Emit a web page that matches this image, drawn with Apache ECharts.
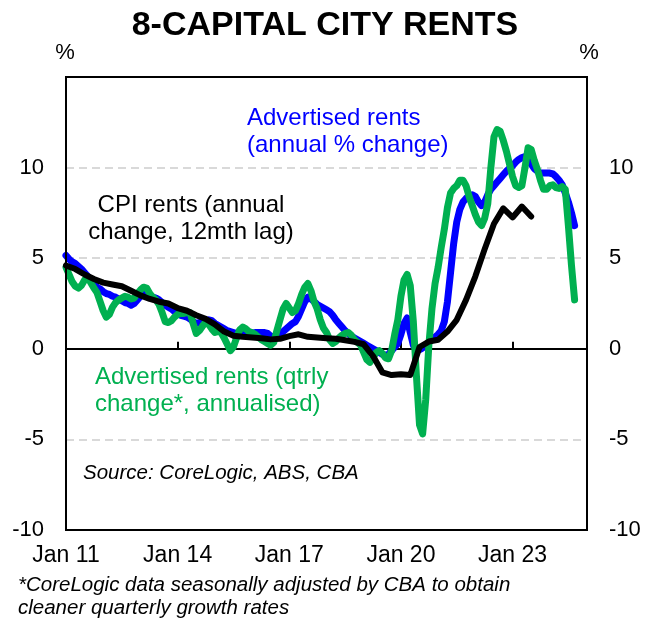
<!DOCTYPE html>
<html><head><meta charset="utf-8">
<script src="https://cdn.jsdelivr.net/npm/echarts@6/dist/echarts.min.js"></script>
<style>html,body{margin:0;padding:0;background:#fff}#c{width:652px;height:624px}</style>
</head><body><div id="c"></div>
<script>
// x axis: months since Jan 2011
const xTickLabels = ['Jan 11', 'Jan 14', 'Jan 17', 'Jan 20', 'Jan 23'];
const xTickStepMonths = 36;
const xMaxMonths = 168;
const yMin = -10, yMax = 15, yStep = 5;

// Advertised rents, annual % change (monthly from Jan 2011)
const advertisedAnnual = [
  5.15,4.95,4.8,4.7,4.55,4.4,4.2,4.0,3.8,3.6,
  3.4,3.3,3.15,3.05,3.0,2.9,2.85,2.75,2.65,2.55,
  2.5,2.4,2.5,2.7,2.9,3.0,3.05,2.95,2.85,2.8,
  2.7,2.55,2.4,2.3,2.2,2.05,1.95,1.85,1.8,1.75,
  1.65,1.5,1.4,1.45,1.5,1.55,1.6,1.55,1.4,1.3,
  1.2,1.1,1.0,0.95,0.9,0.85,0.85,0.85,0.85,0.85,
  0.85,0.9,0.9,0.9,0.9,0.85,0.7,0.65,0.7,0.8,
  0.95,1.1,1.25,1.4,1.5,1.8,2.2,2.6,2.85,2.75,
  2.6,2.45,2.35,2.25,2.15,2.05,1.85,1.6,1.4,1.2,
  1.0,0.85,0.7,0.6,0.5,0.4,0.3,0.2,0.1,0.0,
  -0.1,-0.2,-0.3,-0.35,-0.3,-0.1,0.1,0.3,0.8,1.4,
  1.7,0.9,0.2,-0.05,-0.05,0.05,0.2,0.35,0.5,0.65,
  0.8,1.0,1.5,2.6,4.2,5.8,7.0,7.7,8.1,8.3,
  8.45,8.5,8.4,8.1,7.9,8.1,8.5,8.8,9.0,9.2,
  9.4,9.6,9.8,9.95,10.1,10.3,10.45,10.55,10.6,10.45,
  10.2,9.95,9.8,9.7,9.7,9.7,9.7,9.65,9.5,9.3,
  9.05,8.6,8.1,7.5,6.8
];

// Advertised rents, quarterly change annualised (monthly from Jan 2011)
const advertisedQtrly = [
  4.5,4.1,3.7,3.45,3.35,3.5,3.8,3.95,3.65,3.35,
  3.1,2.6,2.1,1.75,1.9,2.3,2.55,2.7,2.8,2.9,
  2.85,2.75,2.8,3.05,3.25,3.4,3.35,3.05,2.85,2.7,
  2.45,2.0,1.5,1.45,1.55,1.75,1.9,1.95,1.95,2.0,
  2.0,1.4,0.85,1.0,1.25,1.45,1.35,1.1,0.9,0.95,
  0.9,0.6,0.25,-0.1,0.1,0.6,1.05,1.2,1.1,0.95,
  0.9,0.8,0.65,0.5,0.4,0.3,0.2,0.35,1.0,1.6,
  2.2,2.5,2.25,2.0,2.1,2.5,3.0,3.4,3.6,3.2,
  2.6,2.2,1.6,1.15,0.9,0.5,0.3,0.4,0.6,0.75,
  0.85,0.9,0.75,0.5,0.35,0.2,-0.2,-0.6,-0.75,-0.5,
  -0.2,-0.1,-0.25,-0.5,-0.55,-0.1,0.8,1.6,2.9,3.8,
  4.1,3.5,1.5,-1.5,-4.2,-4.7,-2.8,0.2,2.2,3.6,
  4.5,5.6,6.6,7.8,8.6,8.85,9.0,9.3,9.3,9.0,
  8.4,7.9,7.4,7.0,6.8,7.2,8.0,10.0,11.7,12.1,
  12.0,11.5,10.9,10.2,9.5,9.0,8.9,9.0,10.0,11.1,
  11.0,10.4,9.9,9.3,8.8,8.8,9.0,9.05,8.9,8.85,
  8.95,8.8,6.8,4.6,2.7
];

// CPI rents, annual change, 12mth lag (quarterly from Jan 2011)
const cpiRentsLagged = [
  4.6,4.4,4.1,3.85,3.65,3.55,3.45,3.2,2.95,2.75,
  2.6,2.5,2.25,2.1,1.85,1.65,1.35,0.95,0.72,0.66,
  0.62,0.58,0.52,0.55,0.7,0.8,0.66,0.62,0.58,0.55,
  0.47,0.38,0.25,-0.4,-1.3,-1.45,-1.4,-1.45,0.1,0.4,
  0.5,0.95,1.6,2.7,4.0,5.5,6.9,7.75,7.25,7.85,7.3
];

const toXY = (arr, stepMonths) => arr.map((v, i) => [i * stepMonths, v]);

const FONT = 'Liberation Sans, Arial, sans-serif';
const BLUE = '#0000FF', GREEN = '#00B050', BLACK = '#000000';

const chart = echarts.init(document.getElementById('c'), null, {renderer: 'canvas'});

function txt(text, x, y, opts) {
  return {
    type: 'text', z: 100,
    style: Object.assign({
      text: text, x: x, y: y,
      fill: BLACK, fontFamily: FONT, fontSize: 24,
      textAlign: 'left', textVerticalAlign: 'middle', lineHeight: 27
    }, opts || {})
  };
}

chart.setOption({
  animation: false,
  backgroundColor: '#fff',
  grid: {left: 66, right: 65, top: 77, bottom: 94, show: true, borderColor: BLACK, borderWidth: 2, backgroundColor: 'transparent', z: 10},
  xAxis: [
    {
      type: 'value', min: 0, max: xMaxMonths, interval: xTickStepMonths, position: 'bottom',
      axisLine: {show: false, onZero: false},
      axisTick: {show: false},
      splitLine: {show: false},
      axisLabel: {
        show: true, margin: 14, color: BLACK, fontSize: 23, fontFamily: FONT,
        formatter: v => { const i = Math.round(v / xTickStepMonths); return (v % xTickStepMonths === 0 && i < xTickLabels.length) ? xTickLabels[i] : ''; }
      }
    },
    {
      type: 'value', min: 0, max: xMaxMonths, interval: xTickStepMonths, position: 'bottom',
      axisLine: {show: true, onZero: true, lineStyle: {color: BLACK, width: 2}},
      axisTick: {show: true, inside: true, length: 7, lineStyle: {color: BLACK, width: 2}},
      axisLabel: {show: false},
      splitLine: {show: false}
    }
  ],
  yAxis: [
    {
      type: 'value', min: yMin, max: yMax, interval: yStep, position: 'left',
      axisLine: {show: false, onZero: false}, axisTick: {show: false},
      axisLabel: {margin: 22, color: BLACK, fontSize: 22, fontFamily: FONT, formatter: v => v === yMax ? '' : String(v)},
      splitLine: {show: true, showMinLine: false, showMaxLine: false, lineStyle: {color: '#d9d9d9', width: 2, type: [8, 5]}}
    },
    {
      type: 'value', min: yMin, max: yMax, interval: yStep, position: 'right',
      axisLine: {show: false, onZero: false}, axisTick: {show: false},
      axisLabel: {margin: 22, color: BLACK, fontSize: 22, fontFamily: FONT, formatter: v => v === yMax ? '' : String(v)},
      splitLine: {show: false}
    }
  ],
  series: [
    {
      name: 'Advertised rents (annual % change)', type: 'line', xAxisIndex: 0, yAxisIndex: 0,
      data: toXY(advertisedAnnual, 1), showSymbol: false, symbol: 'none', z: 2,
      lineStyle: {color: BLUE, width: 7, cap: 'round', join: 'round'}
    },
    {
      name: 'Advertised rents (qtrly change, annualised)', type: 'line', xAxisIndex: 0, yAxisIndex: 0,
      data: toXY(advertisedQtrly, 1), showSymbol: false, symbol: 'none', z: 3,
      lineStyle: {color: GREEN, width: 7, cap: 'round', join: 'round'}
    },
    {
      name: 'CPI rents (annual change, 12mth lag)', type: 'line', xAxisIndex: 0, yAxisIndex: 0,
      data: toXY(cpiRentsLagged, 3), showSymbol: false, symbol: 'none', z: 4,
      lineStyle: {color: BLACK, width: 6, cap: 'round', join: 'round'}
    }
  ],
  graphic: [
    txt('8-CAPITAL CITY RENTS', 325, 26, {fontSize: 34, fontWeight: 'bold', textAlign: 'center'}),
    txt('%', 65, 53, {fontSize: 22, textAlign: 'center'}),
    txt('%', 589, 53, {fontSize: 22, textAlign: 'center'}),
    txt('Advertised rents\n(annual % change)', 247, 131.5, {fill: BLUE}),
    txt('CPI rents (annual\nchange, 12mth lag)', 191, 218.5, {textAlign: 'center'}),
    txt('Advertised rents (qtrly\nchange*, annualised)', 95, 391, {fill: GREEN}),
    txt('Source: CoreLogic, ABS, CBA', 83, 473, {fontSize: 20.5, fontStyle: 'italic'}),
    txt('*CoreLogic data seasonally adjusted by CBA to obtain\ncleaner quarterly growth rates', 18, 596.5, {fontSize: 20.5, fontStyle: 'italic', lineHeight: 23})
  ]
});
</script>
</body></html>
